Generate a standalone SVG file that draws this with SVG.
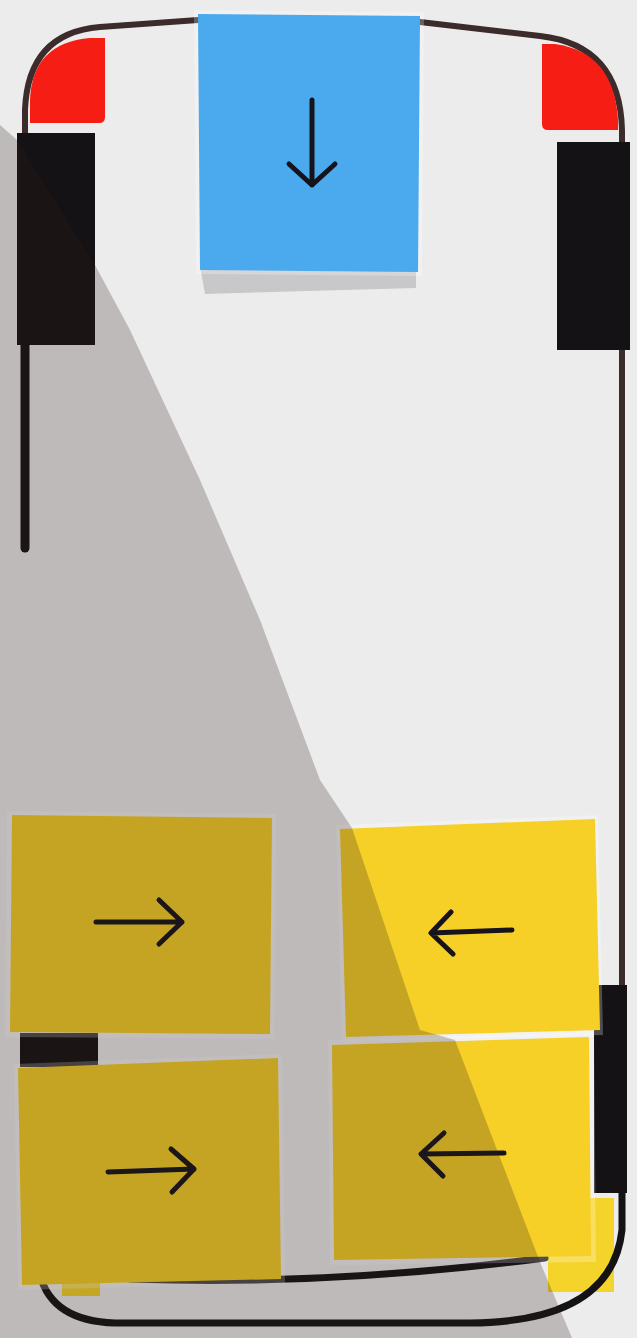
<svg xmlns="http://www.w3.org/2000/svg" width="637" height="1338" viewBox="0 0 637 1338">
<style>
.border{fill:none;stroke:#3b2b2a;stroke-width:6;stroke-linecap:round}
.cable{fill:none;stroke:#141214;stroke-width:7;stroke-linecap:round}
.blk{fill:#141214}
.red{fill:#f51d14}
.sleeve{fill:#ffffff;opacity:0.25}
.yel{fill:#f6cf27}
.blue{fill:#4ba9ee}
.arrow{fill:none;stroke:#16141a;stroke-width:5;stroke-linecap:round;stroke-linejoin:round}
</style>
<rect x="0" y="0" width="637" height="1338" fill="#ececec"/>
<g id="frame">
<path class="border" d="M198,20 L100,27 Q28,33 25,110 L25,135"/>
<path class="border" d="M420,22 L540,36 Q620,45 622,130 L622,990"/>
<path class="red" d="M105,38 L105,117 Q105,123 99,123 L30,123 L30,100 Q32,43 90,38 Z"/>
<path class="red" d="M542,44 L555,44 Q614,52 618,120 L618,130 L548,130 Q542,130 542,124 Z"/>
<rect class="blk" x="17" y="133" width="78" height="212"/>
<rect class="blk" x="557" y="142" width="73" height="208"/>
<path d="M25,345 L25,548" fill="none" stroke="#141214" stroke-width="9" stroke-linecap="round"/>
<rect class="blk" x="20" y="1033" width="78" height="34"/>
<rect class="blk" x="594" y="985" width="33" height="208"/>
<rect x="548" y="1198" width="66" height="94" fill="#f4d42a"/>
<rect x="62" y="1282" width="38" height="14" fill="#f4d42a"/>
<path class="cable" d="M40,1275 Q52,1321 115,1323 L470,1323 Q612,1322 622,1230 L622,1193"/>
<path class="cable" d="M130,1279 Q330,1286 545,1258"/>
</g>
<g id="note-blue">
<polygon points="200,266 416,266 416,288 205,294" fill="#c8c8cb"/>
<polygon class="sleeve" points="194,10 424,12 422,276 196,274"/>
<polygon class="blue" points="198,14 420,16 418,272 200,270"/>
<path class="arrow" d="M312,100 L312,185 M289,164 L312,185 L335,164"/>
</g>
<g id="note-yellow-1">
<polygon class="sleeve" points="7,811 276,814 274,1039 5,1037"/>
<polygon class="yel" points="12,815 272,818 270,1034 10,1032"/>
<path class="arrow" d="M96,922 L182,922 M159,900 L182,922 L159,944"/>
</g>
<g id="note-yellow-2">
<polygon class="sleeve" points="336,825 598,815 603,1035 342,1042"/>
<polygon class="yel" points="340,829 595,819 600,1030 346,1037"/>
<path class="arrow" d="M512,930 L431,933 M451,912 L431,933 L453,954"/>
</g>
<g id="note-yellow-3">
<polygon class="sleeve" points="14,1064 282,1054 285,1283 18,1290"/>
<polygon class="yel" points="18,1068 278,1058 281,1279 22,1285"/>
<path class="arrow" d="M108,1172 L194,1169 M171,1149 L194,1169 L172,1192"/>
</g>
<g id="note-yellow-4">
<polygon class="sleeve" points="328,1040 594,1032 596,1262 330,1265"/>
<polygon class="yel" points="332,1045 589,1037 591,1256 334,1260"/>
<path class="arrow" d="M504,1153 L421,1154 M444,1133 L421,1154 L443,1176"/>
</g>
<polygon id="shadow" points="0,125 17,140 95,265 130,330 200,480 260,620 320,780 352,828 420,1030 455,1040 540,1262 572,1338 0,1338" fill="#2c1c18" opacity="0.24"/>
</svg>
